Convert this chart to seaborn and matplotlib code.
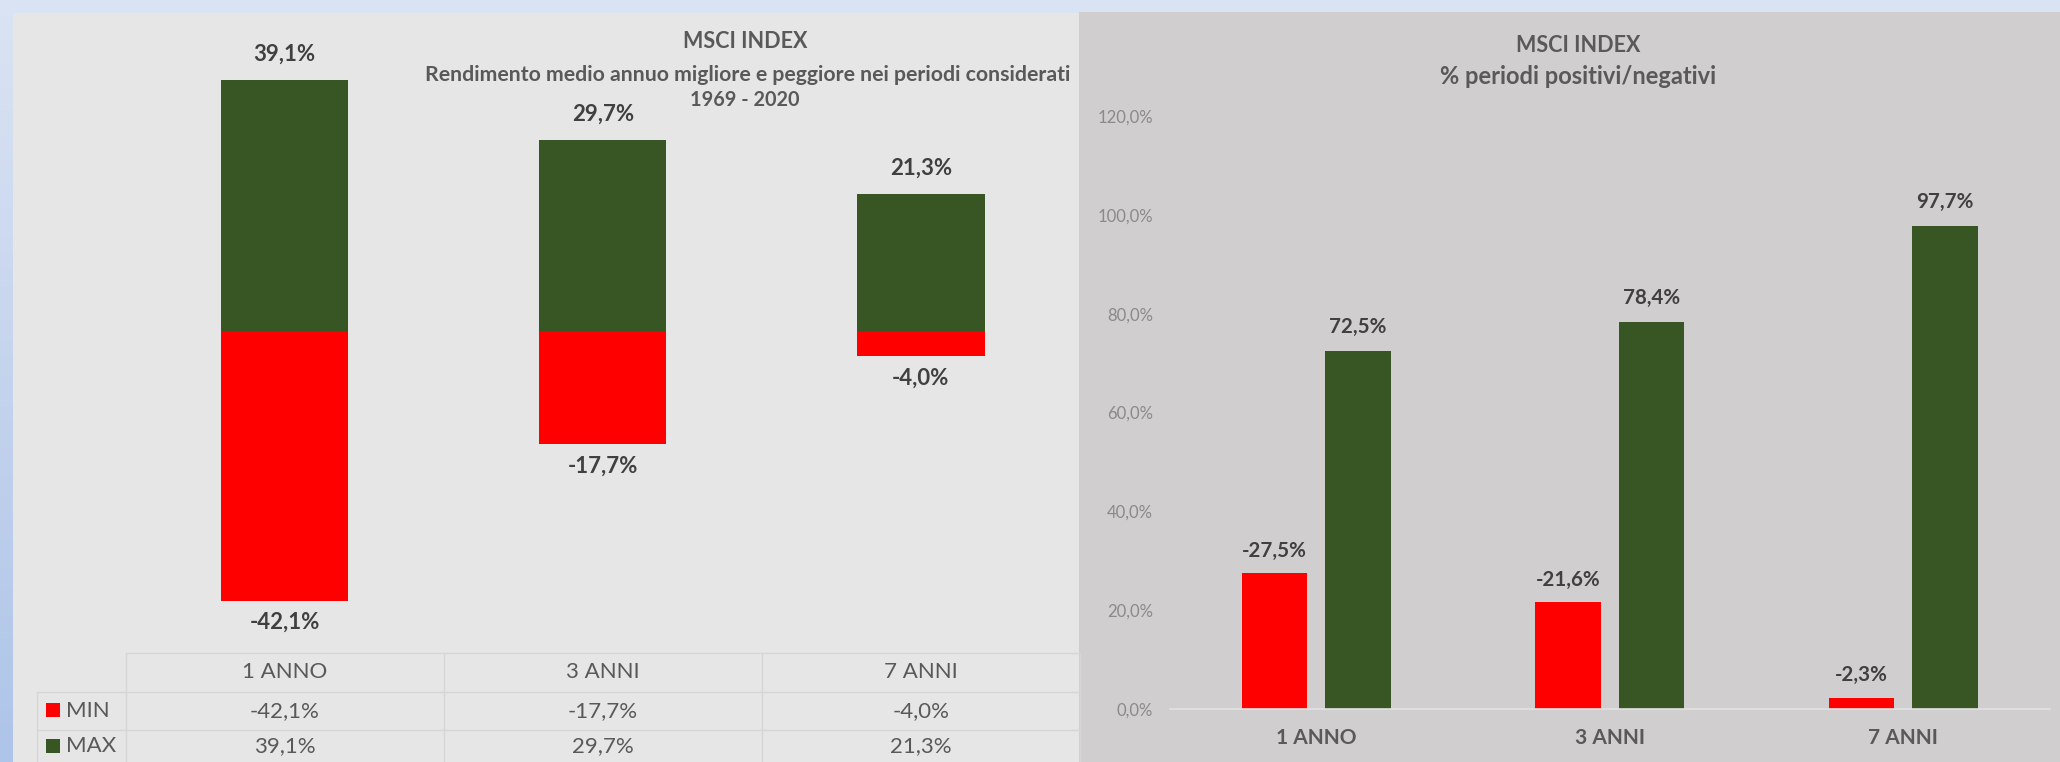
import numpy as np
import pandas as pd
import matplotlib
matplotlib.use("Agg")
import matplotlib.pyplot as plt
import matplotlib.transforms as mtransforms
from matplotlib.patches import Rectangle
import seaborn as sns

# dati grafico sinistro: rendimento medio annuo migliore/peggiore
periodi = ["1 ANNO", "3 ANNI", "7 ANNI"]
rend_min = [-42.1, -17.7, -4.0]
rend_max = [39.1, 29.7, 21.3]

# dati grafico destro: % periodi positivi/negativi
perc_neg = [27.5, 21.6, 2.3]
perc_pos = [72.5, 78.4, 97.7]
tick_vals = [0, 20, 40, 60, 80, 100, 120]

ROSSO = "#ff0000"
VERDE = "#375623"
GRIGIO_TXT = "#595959"
GRIGIO_VAL = "#404040"

W, H = 2060, 762

sns.set_theme(style="white")
plt.rcParams["font.family"] = ["Lato", "DejaVu Sans"]


def pct(v):
    return f"{v:.1f}%".replace(".", ",")


fig = plt.figure(figsize=(W / 100, H / 100), dpi=100, facecolor="#dae3f3")

# sfondo in coordinate pixel
bg = fig.add_axes([0, 0, 1, 1], zorder=-1)
bg.set_xlim(0, W)
bg.set_ylim(H, 0)
bg.axis("off")
grad = np.linspace(0, 1, 200).reshape(-1, 1)
cmap = matplotlib.colors.LinearSegmentedColormap.from_list("strip", ["#dae3f3", "#aec4e8"])
bg.imshow(grad, cmap=cmap, extent=(0, 13, H, 13), aspect="auto")
bg.add_patch(Rectangle((13, 13), 1079 - 13, H - 13, color="#e6e6e6", lw=0))
bg.add_patch(Rectangle((1079, 12), W - 1079, H - 12, color="#d0cece", lw=0))

# ---- grafico sinistro ----
ax1 = fig.add_axes([125.5 / W, 1 - 653 / H, (1080 - 125.5) / W, (653 - 13) / H])
ax1.set_facecolor("none")
sns.barplot(x=periodi, y=rend_max, color=VERDE, saturation=1, width=0.4, linewidth=0, ax=ax1)
sns.barplot(x=periodi, y=rend_min, color=ROSSO, saturation=1, width=0.4, linewidth=0, ax=ax1)
ax1.set_xlim(-0.5, 2.5)
ax1.set_ylim(-50.2, 49.5)
ax1.axis("off")
ax1.bar_label(ax1.containers[0], labels=[pct(v) for v in rend_max], padding=11,
              fontsize=16, fontweight="bold", color=GRIGIO_VAL)
ax1.bar_label(ax1.containers[1], labels=[pct(v) for v in rend_min], padding=8,
              fontsize=16, fontweight="bold", color=GRIGIO_VAL)

fig.text(745 / W, 1 - 42 / H, "MSCI INDEX", ha="center", va="center", fontsize=15.5,
         fontweight="bold", color=GRIGIO_TXT)
fig.text(748 / W, 1 - 75 / H, "Rendimento medio annuo migliore e peggiore nei periodi considerati",
         ha="center", va="center", fontsize=15.3, fontweight="bold", color=GRIGIO_TXT)
fig.text(745 / W, 1 - 100 / H, "1969 - 2020", ha="center", va="center", fontsize=14.3,
         fontweight="bold", color=GRIGIO_TXT)

# tabella dati sotto il grafico
tr = mtransforms.blended_transform_factory(ax1.transData, bg.transData)
line_kw = dict(color="#d6d6d6", lw=1, transform=tr, clip_on=False)
x_leg = -0.5 - (125.5 - 37) / 318.5
ax1.plot([-0.5, 2.5], [653, 653], **line_kw)
ax1.plot([x_leg, 2.5], [692, 692], **line_kw)
ax1.plot([x_leg, 2.5], [730, 730], **line_kw)
for xv in [-0.5, 0.5, 1.5, 2.5]:
    ax1.plot([xv, xv], [653, H], **line_kw)
ax1.plot([x_leg, x_leg], [692, H], **line_kw)

for i, p in enumerate(periodi):
    ax1.text(i, 672, p, transform=tr, ha="center", va="center", fontsize=16, color=GRIGIO_TXT, clip_on=False)
    ax1.text(i, 711, pct(rend_min[i]), transform=tr, ha="center", va="center", fontsize=16,
             color=GRIGIO_TXT, clip_on=False)
    ax1.text(i, 746, pct(rend_max[i]), transform=tr, ha="center", va="center", fontsize=16,
             color=GRIGIO_TXT, clip_on=False)

bg.add_patch(Rectangle((46, 703), 14, 14, color=ROSSO, lw=0))
bg.add_patch(Rectangle((46, 739), 14, 14, color=VERDE, lw=0))
bg.text(66, 711, "MIN", ha="left", va="center", fontsize=16, color=GRIGIO_TXT)
bg.text(66, 746, "MAX", ha="left", va="center", fontsize=16, color=GRIGIO_TXT)

# ---- grafico destro ----
df = pd.DataFrame({
    "periodo": periodi * 2,
    "tipo": ["neg"] * 3 + ["pos"] * 3,
    "valore": perc_neg + perc_pos,
})
ax2 = fig.add_axes([1169.5 / W, 1 - 709 / H, (2050 - 1169.5) / W, (709 - 116) / H])
ax2.set_facecolor("none")
sns.barplot(data=df, x="periodo", y="valore", hue="tipo", palette=[ROSSO, VERDE],
            saturation=1, width=0.568, gap=0.215, errorbar=None, legend=False,
            linewidth=0, ax=ax2)
ax2.set_xlim(-0.5, 2.5)
ax2.set_ylim(0, 120)
ax2.set_yticks(tick_vals)
ax2.set_yticklabels([pct(v) for v in tick_vals])
ax2.set_xlabel("")
ax2.set_ylabel("")
for s in ["top", "right", "left"]:
    ax2.spines[s].set_visible(False)
ax2.spines["bottom"].set_color("#e2e2e2")
ax2.spines["bottom"].set_linewidth(1.2)
ax2.tick_params(axis="y", length=0, pad=12, labelsize=12, labelcolor="#8a8a8a")
ax2.tick_params(axis="x", length=0, pad=14, labelsize=15, labelcolor=GRIGIO_TXT)
for lab in ax2.get_xticklabels():
    lab.set_fontweight("bold")

ax2.bar_label(ax2.containers[0], labels=["-" + pct(v) for v in perc_neg], padding=9,
              fontsize=14.8, fontweight="bold", color=GRIGIO_VAL)
ax2.bar_label(ax2.containers[1], labels=[pct(v) for v in perc_pos], padding=10,
              fontsize=14.8, fontweight="bold", color=GRIGIO_VAL)

fig.text(1578 / W, 1 - 46 / H, "MSCI INDEX", ha="center", va="center", fontsize=15.5,
         fontweight="bold", color=GRIGIO_TXT)
fig.text(1578 / W, 1 - 77 / H, "% periodi positivi/negativi", ha="center", va="center",
         fontsize=17, fontweight="bold", color=GRIGIO_TXT)

fig.savefig("out.png", dpi=100, facecolor=fig.get_facecolor())
